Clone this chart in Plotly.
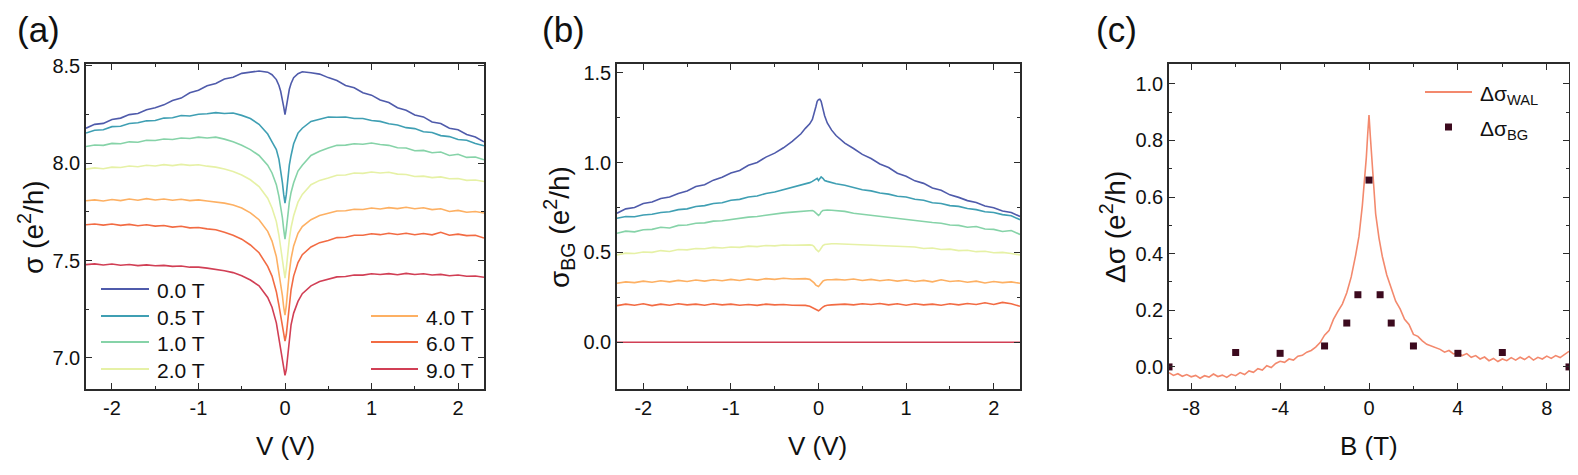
"""Magnetoconductance panels: sigma(V), background sigma_BG(V) and delta sigma(B)."""

import plotly.graph_objects as go

FONT = "Liberation Sans, Arial, sans-serif"
AXIS_COLOR = "#2b2b2b"
TEXT_COLOR = "#111111"

# bias voltage grid shared by panels (a) and (b)
V = [
    -2.3, -2.2, -2.1, -2.0, -1.9, -1.8, -1.7, -1.6, -1.5, -1.4, -1.3, -1.2, -1.1,
    -1.0, -0.9, -0.8, -0.7, -0.6, -0.5, -0.4, -0.3,
    -0.2, -0.15, -0.1, -0.07, -0.05, -0.03, -0.015, 0.0, 0.015, 0.03, 0.05, 0.07, 0.1, 0.15, 0.2,
    0.3, 0.4, 0.5, 0.6, 0.7, 0.8, 0.9, 1.0, 1.1, 1.2, 1.3, 1.4, 1.5, 1.6, 1.7,
    1.8, 1.9, 2.0, 2.1, 2.2, 2.3,
]

FIELD_LABELS = ["0.0 T", "0.5 T", "1.0 T", "2.0 T", "4.0 T", "6.0 T", "9.0 T"]
FIELD_COLORS = ["#4f5bab", "#3f9fb3", "#86d3a8", "#e6f1a6", "#fdb063", "#f26b43", "#d13f55"]

# panel (a): sigma (e^2/h)
SIGMA_0T0 = [
    8.180, 8.200, 8.205, 8.225, 8.232, 8.250, 8.256, 8.275, 8.285, 8.300, 8.322, 8.335, 8.362,
    8.375, 8.398, 8.410, 8.433, 8.442, 8.462, 8.468, 8.474,
    8.468, 8.455, 8.430, 8.400, 8.370, 8.330, 8.290, 8.250, 8.290, 8.335, 8.380, 8.410, 8.440, 8.460, 8.470,
    8.465, 8.458, 8.440, 8.425, 8.400, 8.388, 8.362, 8.350, 8.325, 8.312, 8.285, 8.272, 8.248, 8.238, 8.212,
    8.204, 8.180, 8.172, 8.148, 8.135, 8.110,
]
SIGMA_0T5 = [
    8.155, 8.170, 8.172, 8.188, 8.190, 8.204, 8.208, 8.218, 8.220, 8.232, 8.234, 8.245, 8.243,
    8.252, 8.254, 8.260, 8.256, 8.258, 8.246, 8.230, 8.200,
    8.150, 8.110, 8.070, 8.020, 7.970, 7.900, 7.840, 7.795, 7.840, 7.920, 7.990, 8.040, 8.100, 8.155, 8.180,
    8.215, 8.228, 8.238, 8.236, 8.238, 8.230, 8.230, 8.220, 8.215, 8.203, 8.197, 8.183, 8.178, 8.162, 8.158,
    8.142, 8.137, 8.122, 8.118, 8.102, 8.090,
]
SIGMA_1T0 = [
    8.086, 8.094, 8.092, 8.102, 8.100, 8.110, 8.108, 8.118, 8.117, 8.125, 8.122, 8.130, 8.127,
    8.134, 8.130, 8.134, 8.124, 8.110, 8.092, 8.070, 8.040,
    7.990, 7.950, 7.890, 7.830, 7.780, 7.720, 7.660, 7.610, 7.660, 7.730, 7.800, 7.850, 7.900, 7.960, 7.990,
    8.040, 8.062, 8.078, 8.092, 8.093, 8.100, 8.098, 8.104, 8.096, 8.092, 8.080, 8.078, 8.064, 8.066, 8.054,
    8.058, 8.040, 8.046, 8.030, 8.032, 8.018,
]
SIGMA_2T0 = [
    7.970, 7.976, 7.972, 7.980, 7.978, 7.986, 7.982, 7.990, 7.986, 7.993, 7.988, 7.994, 7.989,
    7.992, 7.985, 7.980, 7.970, 7.958, 7.940, 7.915, 7.880,
    7.820, 7.770, 7.700, 7.630, 7.570, 7.510, 7.450, 7.410, 7.460, 7.530, 7.610, 7.670, 7.730, 7.800, 7.840,
    7.890, 7.912, 7.924, 7.938, 7.940, 7.950, 7.948, 7.955, 7.950, 7.954, 7.944, 7.942, 7.932, 7.934, 7.926,
    7.930, 7.920, 7.922, 7.912, 7.914, 7.906,
]
SIGMA_4T0 = [
    7.807, 7.812, 7.806, 7.814, 7.808, 7.816, 7.810, 7.818, 7.811, 7.816, 7.810, 7.815, 7.808,
    7.812, 7.806, 7.802, 7.795, 7.785, 7.770, 7.745, 7.710,
    7.650, 7.600, 7.520, 7.440, 7.380, 7.320, 7.260, 7.220, 7.270, 7.350, 7.440, 7.510, 7.575, 7.640, 7.675,
    7.710, 7.732, 7.743, 7.755, 7.756, 7.764, 7.762, 7.770, 7.765, 7.772, 7.767, 7.774, 7.766, 7.771, 7.762,
    7.766, 7.752, 7.758, 7.748, 7.752, 7.744,
]
SIGMA_6T0 = [
    7.684, 7.688, 7.682, 7.688, 7.681, 7.686, 7.679, 7.684, 7.677, 7.680, 7.672, 7.676, 7.668,
    7.670, 7.663, 7.658, 7.645, 7.630, 7.610, 7.580, 7.540,
    7.470, 7.420, 7.340, 7.270, 7.210, 7.160, 7.110, 7.086, 7.120, 7.190, 7.280, 7.350, 7.420, 7.490, 7.530,
    7.570, 7.592, 7.603, 7.618, 7.620, 7.630, 7.630, 7.638, 7.633, 7.640, 7.634, 7.640, 7.633, 7.639, 7.632,
    7.645, 7.630, 7.636, 7.628, 7.630, 7.616,
]
SIGMA_9T0 = [
    7.479, 7.483, 7.477, 7.482, 7.476, 7.480, 7.474, 7.478, 7.473, 7.475, 7.470, 7.472, 7.466,
    7.466, 7.461, 7.456, 7.448, 7.438, 7.422, 7.400, 7.370,
    7.310, 7.260, 7.180, 7.100, 7.040, 6.980, 6.930, 6.910, 6.940, 7.010, 7.100, 7.170, 7.230, 7.290, 7.330,
    7.370, 7.392, 7.404, 7.416, 7.418, 7.426, 7.425, 7.432, 7.428, 7.433, 7.427, 7.434, 7.428, 7.432, 7.426,
    7.429, 7.422, 7.426, 7.419, 7.421, 7.414,
]

# panel (b): background sigma_BG (e^2/h)
BG_0T0 = [
    0.718, 0.742, 0.750, 0.772, 0.780, 0.800, 0.808, 0.828, 0.842, 0.866, 0.876, 0.902, 0.918,
    0.942, 0.956, 0.985, 1.000, 1.030, 1.052, 1.082, 1.118,
    1.160, 1.190, 1.215, 1.240, 1.270, 1.310, 1.340, 1.350, 1.352, 1.340, 1.300, 1.260, 1.220, 1.180, 1.150,
    1.108, 1.078, 1.045, 1.022, 0.992, 0.972, 0.940, 0.924, 0.898, 0.884, 0.858, 0.846, 0.820, 0.806, 0.788,
    0.778, 0.758, 0.748, 0.730, 0.722, 0.700,
]
BG_0T5 = [
    0.690, 0.700, 0.698, 0.708, 0.712, 0.722, 0.726, 0.738, 0.742, 0.755, 0.760, 0.772, 0.776,
    0.790, 0.795, 0.808, 0.814, 0.828, 0.836, 0.848, 0.860,
    0.872, 0.880, 0.888, 0.895, 0.900, 0.906, 0.912, 0.900, 0.912, 0.920, 0.912, 0.900, 0.895, 0.888, 0.882,
    0.874, 0.862, 0.848, 0.842, 0.830, 0.824, 0.812, 0.808, 0.796, 0.790, 0.776, 0.772, 0.760, 0.756, 0.744,
    0.738, 0.726, 0.722, 0.710, 0.704, 0.682,
]
BG_1T0 = [
    0.606, 0.618, 0.614, 0.626, 0.628, 0.640, 0.636, 0.650, 0.652, 0.662, 0.664, 0.674, 0.676,
    0.684, 0.688, 0.696, 0.700, 0.708, 0.712, 0.720, 0.724,
    0.728, 0.730, 0.732, 0.733, 0.728, 0.718, 0.710, 0.706, 0.712, 0.725, 0.733, 0.735, 0.736, 0.734, 0.732,
    0.728, 0.718, 0.712, 0.704, 0.700, 0.692, 0.688, 0.682, 0.676, 0.670, 0.666, 0.662, 0.652, 0.650, 0.640,
    0.644, 0.630, 0.628, 0.616, 0.622, 0.600,
]
BG_2T0 = [
    0.486, 0.496, 0.494, 0.502, 0.500, 0.510, 0.505, 0.516, 0.514, 0.522, 0.520, 0.528, 0.524,
    0.530, 0.528, 0.535, 0.532, 0.538, 0.536, 0.541, 0.540,
    0.542, 0.544, 0.542, 0.540, 0.532, 0.518, 0.508, 0.504, 0.512, 0.526, 0.538, 0.544, 0.546, 0.548, 0.548,
    0.546, 0.544, 0.540, 0.538, 0.536, 0.532, 0.534, 0.528, 0.530, 0.522, 0.524, 0.516, 0.518, 0.510, 0.512,
    0.504, 0.506, 0.498, 0.500, 0.494, 0.486,
]
BG_4T0 = [
    0.328, 0.336, 0.332, 0.340, 0.334, 0.342, 0.336, 0.344, 0.338, 0.346, 0.340, 0.348, 0.342,
    0.350, 0.344, 0.352, 0.346, 0.354, 0.350, 0.356, 0.352,
    0.356, 0.354, 0.350, 0.340, 0.330, 0.318, 0.312, 0.310, 0.318, 0.330, 0.340, 0.345, 0.348, 0.348, 0.350,
    0.346, 0.352, 0.344, 0.350, 0.342, 0.348, 0.340, 0.346, 0.338, 0.344, 0.336, 0.348, 0.338, 0.342, 0.334,
    0.340, 0.330, 0.338, 0.332, 0.336, 0.328,
]
BG_6T0 = [
    0.204, 0.212, 0.206, 0.214, 0.204, 0.212, 0.206, 0.214, 0.208, 0.212, 0.206, 0.214, 0.208,
    0.212, 0.206, 0.210, 0.205, 0.212, 0.208, 0.210, 0.206,
    0.208, 0.205, 0.200, 0.192, 0.186, 0.180, 0.176, 0.175, 0.180, 0.188, 0.196, 0.202, 0.206, 0.208, 0.210,
    0.212, 0.208, 0.214, 0.210, 0.216, 0.208, 0.214, 0.206, 0.214, 0.208, 0.212, 0.206, 0.214, 0.208, 0.216,
    0.210, 0.220, 0.210, 0.222, 0.214, 0.200,
]
V_9T0_BG = [-2.3, 2.3]
BG_9T0 = [0.0, 0.0]

# panel (c): weak antilocalization curve and background points vs field
B_WAL = [
    -9.0, -8.8, -8.6, -8.4, -8.2, -8.0, -7.8, -7.6, -7.4, -7.2, -7.0, -6.8, -6.6, -6.4, -6.2,
    -6.0, -5.8, -5.6, -5.4, -5.2, -5.0, -4.8, -4.6, -4.4, -4.2, -4.0, -3.8, -3.6, -3.4, -3.2,
    -3.0, -2.8, -2.6, -2.4, -2.2, -2.0, -1.8, -1.6, -1.4, -1.2, -1.0, -0.8, -0.6, -0.45, -0.3,
    -0.2, -0.12, -0.06, 0.0, 0.06, 0.12, 0.2, 0.3, 0.45, 0.6, 0.8, 1.0, 1.2, 1.4, 1.6, 1.8,
    2.0, 2.2, 2.4, 2.6, 2.8, 3.0, 3.2, 3.4, 3.6, 3.8, 4.0, 4.2, 4.4, 4.6, 4.8, 5.0, 5.2, 5.4,
    5.6, 5.8, 6.0, 6.2, 6.4, 6.6, 6.8, 7.0, 7.2, 7.4, 7.6, 7.8, 8.0, 8.2, 8.4, 8.6, 8.8, 9.0,
]
DS_WAL = [
    -0.020, -0.030, -0.024, -0.033, -0.027, -0.035, -0.030, -0.040, -0.031, -0.036, -0.025,
    -0.034, -0.029, -0.037, -0.026, -0.031, -0.020, -0.027, -0.014, -0.019, -0.006, -0.011,
    0.004, -0.002, 0.012, 0.020, 0.016, 0.028, 0.024, 0.038, 0.041, 0.052, 0.058, 0.070,
    0.086, 0.112, 0.128, 0.168, 0.196, 0.222, 0.262, 0.318, 0.395, 0.462, 0.570,
    0.655, 0.740, 0.820, 0.890, 0.815, 0.735, 0.660, 0.540, 0.455, 0.390, 0.325, 0.275,
    0.232, 0.205, 0.168, 0.150, 0.115, 0.108, 0.092, 0.080, 0.074, 0.066, 0.062, 0.052,
    0.058, 0.046, 0.050, 0.040, 0.047, 0.034, 0.040, 0.028, 0.035, 0.022, 0.030, 0.019,
    0.028, 0.022, 0.033, 0.024, 0.034, 0.026, 0.037, 0.024, 0.034, 0.028, 0.038, 0.030,
    0.040, 0.033, 0.045, 0.055,
]
B_BG = [-9, -6, -4, -2, -1, -0.5, 0, 0.5, 1, 2, 4, 6, 9]
DS_BG = [0.0, 0.051, 0.048, 0.074, 0.155, 0.255, 0.66, 0.255, 0.155, 0.074, 0.048, 0.051, 0.0]
WAL_COLOR = "#f3896d"
BG_COLOR = "#3c0a1e"

V_TICKS = [-2, -1, 0, 1, 2]
V_TICKTEXT = ["-2", "-1", "0", "1", "2"]
B_TICKS = [-8, -4, 0, 4, 8]
B_TICKTEXT = ["-8", "-4", "0", "4", "8"]

W, H = 1578, 475
# the page body adds an 8 px offset; layout positions below are screen pixels
OFFSET = 8


def px(x):
    return (x - OFFSET) / W


def py(y):
    return 1 - (y - OFFSET) / H


def axis_style(tickvals, minor_vals, rng, domain, anchor, ticktext=None, tickformat=None):
    style = dict(
        range=rng,
        domain=domain,
        anchor=anchor,
        automargin=False,
        showline=True,
        linecolor=AXIS_COLOR,
        linewidth=1.6,
        mirror="allticks",
        ticks="inside",
        ticklen=6,
        tickwidth=1.4,
        tickcolor=AXIS_COLOR,
        tickmode="array",
        tickvals=tickvals,
        tickangle=0,
        showgrid=False,
        zeroline=False,
        tickfont=dict(family=FONT, size=20, color=TEXT_COLOR),
        minor=dict(tickmode="array", tickvals=minor_vals, ticks="inside", ticklen=3.5,
                   tickwidth=1.2, tickcolor=AXIS_COLOR, showgrid=False),
    )
    if ticktext is not None:
        style["ticktext"] = ticktext
    if tickformat is not None:
        style["tickformat"] = tickformat
    return style


fig = go.Figure()

sigma_series = [SIGMA_0T0, SIGMA_0T5, SIGMA_1T0, SIGMA_2T0, SIGMA_4T0, SIGMA_6T0, SIGMA_9T0]
for label, values, color in zip(FIELD_LABELS, sigma_series, FIELD_COLORS):
    fig.add_trace(go.Scatter(x=V, y=values, mode="lines", name=label, xaxis="x", yaxis="y",
                             line=dict(color=color, width=1.6)))

bg_series = [(V, BG_0T0), (V, BG_0T5), (V, BG_1T0), (V, BG_2T0), (V, BG_4T0), (V, BG_6T0),
             (V_9T0_BG, BG_9T0)]
for label, (xs, values), color in zip(FIELD_LABELS, bg_series, FIELD_COLORS):
    fig.add_trace(go.Scatter(x=xs, y=values, mode="lines", name=label, xaxis="x2", yaxis="y2",
                             line=dict(color=color, width=1.6)))

fig.add_trace(go.Scatter(x=B_WAL, y=DS_WAL, mode="lines", xaxis="x3", yaxis="y3",
                         line=dict(color=WAL_COLOR, width=1.6)))
fig.add_trace(go.Scatter(x=B_BG, y=DS_BG, mode="markers", xaxis="x3", yaxis="y3",
                         marker=dict(symbol="square", size=7, color=BG_COLOR)))

y_dom = [py(389), py(64)]
fig.update_layout(
    template="none",
    width=W,
    height=H,
    margin=dict(l=0, r=0, t=0, b=0, autoexpand=False),
    paper_bgcolor="white",
    plot_bgcolor="white",
    showlegend=False,
    font=dict(family=FONT, color=TEXT_COLOR),
    xaxis=axis_style(V_TICKS, [-1.5, -0.5, 0.5, 1.5], [-2.3, 2.3], [px(86), px(484)], "y",
                     ticktext=V_TICKTEXT),
    yaxis=axis_style([7.0, 7.5, 8.0, 8.5], [7.25, 7.75, 8.25], [6.84, 8.51], y_dom, "x",
                     tickformat=".1f"),
    xaxis2=axis_style(V_TICKS, [-1.5, -0.5, 0.5, 1.5], [-2.3, 2.3], [px(617), px(1020)], "y2",
                      ticktext=V_TICKTEXT),
    yaxis2=axis_style([0.0, 0.5, 1.0, 1.5], [0.25, 0.75, 1.25], [-0.26, 1.548], y_dom, "x2",
                      tickformat=".1f"),
    xaxis3=axis_style(B_TICKS, [-6, -2, 2, 6], [-9.0, 9.0], [px(1169), px(1569)], "y3",
                      ticktext=B_TICKTEXT),
    yaxis3=axis_style([0.0, 0.2, 0.4, 0.6, 0.8, 1.0], [0.1, 0.3, 0.5, 0.7, 0.9], [-0.078, 1.07],
                      y_dom, "x3", tickformat=".1f"),
)

annotations = []
shapes = []


def text(x, y, s, size, angle=0, xanchor="center"):
    annotations.append(dict(x=px(x), y=py(y), xref="paper", yref="paper", text=s, showarrow=False,
                            textangle=angle, xanchor=xanchor, yanchor="middle",
                            font=dict(family=FONT, size=size, color=TEXT_COLOR)))


# panel labels, kept just inside the top edge of the page
text(38, 30, "(a)", 35)
text(563, 30, "(b)", 35)
text(1116, 30, "(c)", 35)

# axis titles
text(285, 446, "V (V)", 26)
text(818, 446, "V (V)", 26)
text(1369, 446, "B (T)", 26)
text(31, 227, "σ (e<sup>2</sup>/h)", 28, angle=-90)
text(559, 227, "σ<sub>BG</sub> (e<sup>2</sup>/h)", 28, angle=-90)
text(1113, 227, "Δσ (e<sup>2</sup>/h)", 28, angle=-90)

# legend for panel (a), two columns
legend_rows = [289, 316, 342, 369, 316, 342, 369]
legend_x = [(101, 149, 155)] * 4 + [(371, 418, 424)] * 3
for label, color, row, (x0, x1, xt) in zip(FIELD_LABELS, FIELD_COLORS, legend_rows, legend_x):
    shapes.append(dict(type="line", xref="paper", yref="paper", x0=px(x0), x1=px(x1),
                       y0=py(row), y1=py(row), line=dict(color=color, width=1.8)))
    text(xt, row + 1, label, 21, xanchor="left")

# legend for panel (c)
shapes.append(dict(type="line", xref="paper", yref="paper", x0=px(1425), x1=px(1472),
                   y0=py(92), y1=py(92), line=dict(color=WAL_COLOR, width=1.8)))
shapes.append(dict(type="rect", xref="paper", yref="paper", x0=px(1445), x1=px(1452),
                   y0=py(130.5), y1=py(123.5), line=dict(width=0), fillcolor=BG_COLOR))
text(1478, 95, "Δσ<sub>WAL</sub>", 21, xanchor="left")
text(1478, 130, "Δσ<sub>BG</sub>", 21, xanchor="left")

fig.update_layout(annotations=annotations, shapes=shapes)

fig.write_html("out.html")
